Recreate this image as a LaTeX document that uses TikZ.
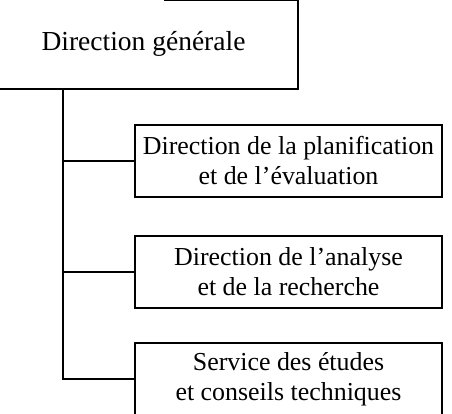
\documentclass[tikz,border=0pt]{standalone}
\usepackage{fontspec}
\setmainfont{Liberation Serif}
\begin{document}
\begin{tikzpicture}[x=1pt,y=-1pt,line width=1.6pt,
  unitbox/.style={draw, rectangle, minimum width=307pt, minimum height=72pt,
    align=center, inner sep=0pt, font=\fontsize{25.9}{30}\selectfont}]
\useasboundingbox (0,0) rectangle (452,414);
\clip (0,0) rectangle (452,414);
\node[inner sep=0pt, minimum width=307pt, minimum height=87.2pt,
  font=\fontsize{27.5}{33}\selectfont] (gen) at (143.5,44.4) {Direction générale};
\draw (gen.south west) -- (gen.south east) -- (gen.north east) -- ([xshift=-134pt]gen.north east);
\node[unitbox] (b1) at (288.5,161) {Direction de la planification\\et de l’évaluation};
\node[unitbox] (b2) at (288.5,272) {Direction de l’analyse\\et de la recherche};
\node[unitbox] (b3) at (288.5,379) {Service des études\\et conseils techniques};
\coordinate (trunk) at (63,88);
\draw (trunk) |- (b3.west);
\draw (b1.west) -- (b1.west -| trunk);
\draw (b2.west) -- (b2.west -| trunk);
\end{tikzpicture}
\end{document}
